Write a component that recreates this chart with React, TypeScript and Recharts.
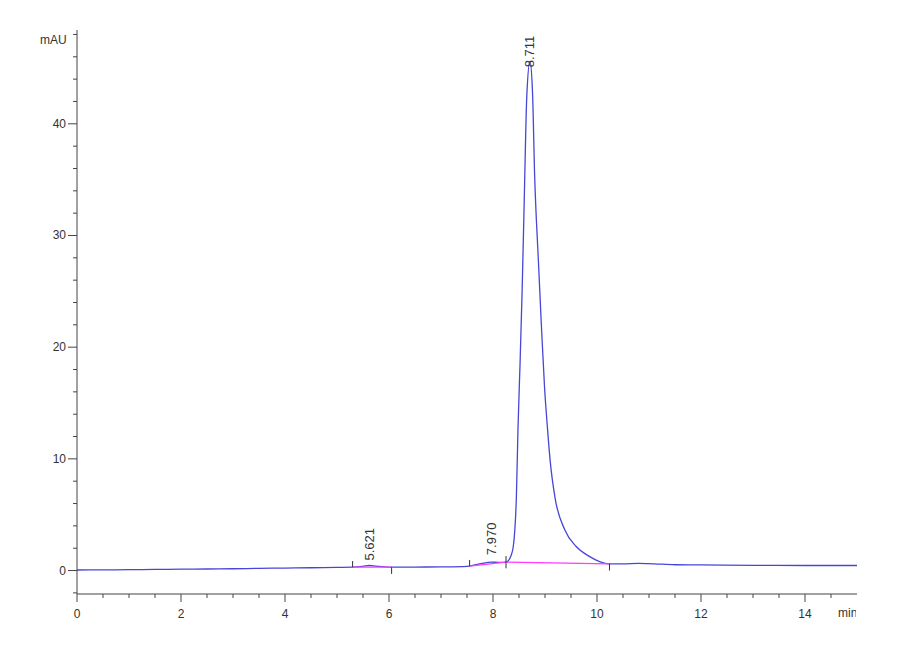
import React from "react"
import {
  Line,
  LineChart,
  ReferenceDot,
  ReferenceLine,
  XAxis,
  YAxis,
} from "recharts"

// chromatogram trace (min, mAU)
const timeMin = [
  0, 0.5, 1, 1.5, 2, 2.5, 3, 3.5, 4, 4.5, 5, 5.3, 5.5, 5.62, 5.75, 5.9, 6.05,
  6.5, 7, 7.5, 7.65, 7.8, 7.97, 8.1, 8.2, 8.25, 8.29, 8.34, 8.39, 8.42, 8.45,
  8.48, 8.52, 8.56, 8.6, 8.65, 8.711, 8.76, 8.8, 8.87, 8.93, 8.99, 9.05, 9.1,
  9.19, 9.38, 9.6, 9.86, 10.05, 10.24, 10.5, 10.8, 11.1, 11.5, 12, 13, 14, 15,
]
const absMAU = [
  0.05, 0.06, 0.08, 0.1, 0.12, 0.14, 0.16, 0.2, 0.22, 0.25, 0.28, 0.3, 0.38,
  0.45, 0.4, 0.33, 0.3, 0.31, 0.33, 0.38, 0.5, 0.65, 0.75, 0.74, 0.74, 0.76,
  0.85, 1.25, 2.15, 3.65, 6.6, 12.6, 18.5, 25, 33, 42.5, 45.6, 42.8, 35.5, 28,
  22, 16.5, 12.6, 9.8, 6.6, 3.65, 2.15, 1.25, 0.8, 0.6, 0.6, 0.65, 0.6, 0.52,
  0.5, 0.47, 0.45, 0.45,
]

// integration baselines (null = gap)
const baseTime = [5.3, 6.05, 6.8, 7.55, 8.25, 10.24]
const baseMAU: (number | null)[] = [0.3, 0.3, null, 0.4, 0.76, 0.6]

// integration event marks
const eventTime = [5.3, 6.05, 7.55, 8.25, 10.24]
const eventLow = [0.3, -0.3, 0.4, 0.2, 0.0]
const eventHigh = [0.85, 0.3, 0.95, 1.3, 0.6]

// peak apex labels
const peakTime = [5.621, 7.97, 8.711]
const peakMAU = [0.45, 0.75, 45.6]
const peakLabel = ["5.621", "7.970", "8.711"]

const xTicks = [
  0, 0.5, 1, 1.5, 2, 2.5, 3, 3.5, 4, 4.5, 5, 5.5, 6, 6.5, 7, 7.5, 8, 8.5, 9,
  9.5, 10, 10.5, 11, 11.5, 12, 12.5, 13, 13.5, 14, 14.5,
]
const xLabelled = [0, 2, 4, 6, 8, 10, 12, 14]
const yTicks = [
  -2, 0, 2, 4, 6, 8, 10, 12, 14, 16, 18, 20, 22, 24, 26, 28, 30, 32, 34, 36, 38,
  40, 42, 44, 46, 48,
]
const yLabelled = [0, 10, 20, 30, 40]

const FONT = "'Liberation Sans', Arial, sans-serif"
const AXIS = "#444"
const TRACE = "#4646d8"
const BASE = "#ff3cff"
// vertical gap between apex and label start (px); main peak label overlaps tip
const labelGap = [5, 7, -6]

const traceData = timeMin.map((t, i) => ({ t, v: absMAU[i] }))
const baseData = baseTime.map((t, i) => ({ t, b: baseMAU[i] }))

const XTick = (props: any) => {
  const { x, y, payload } = props
  const major = xLabelled.includes(payload.value)
  return (
    <g>
      <line x1={x} x2={x} y1={y} y2={y + (major ? 8 : 4)} stroke={AXIS} />
      {major && (
        <text
          x={x}
          y={y + 24}
          textAnchor="middle"
          fontSize={12}
          fontFamily={FONT}
          fill="#333"
        >
          {payload.value}
        </text>
      )}
    </g>
  )
}

const YTick = (props: any) => {
  const { x, y, payload } = props
  const major = yLabelled.includes(payload.value)
  return (
    <g>
      <line x1={x} x2={x - (major ? 9 : 4)} y1={y} y2={y} stroke={AXIS} />
      {major && (
        <text
          x={x - 11}
          y={y + 4}
          textAnchor="end"
          fontSize={12}
          fontFamily={FONT}
          fill="#333"
        >
          {payload.value}
        </text>
      )}
    </g>
  )
}

const PeakLabel = (text: string, gap: number) => (props: any) => {
  const { viewBox } = props
  const cx = viewBox.x + (viewBox.width || 0) / 2
  const cy = viewBox.y + (viewBox.height || 0) / 2
  return (
    <text
      transform={`translate(${cx + 4.5},${cy - gap}) rotate(-90)`}
      fontSize={13}
      fontFamily={FONT}
      fill="#333"
    >
      {text}
    </text>
  )
}

export default function App() {
  return (
    <div style={{ position: "absolute", left: 0, top: 0, background: "#fff" }}>
      <LineChart
        width={900}
        height={660}
        data={traceData}
        margin={{ top: 30, right: 43, bottom: 0, left: 0 }}
      >
        <defs>
          <clipPath id="minClip">
            <rect x={0} y={0} width={856} height={660} />
          </clipPath>
        </defs>
        <XAxis
          dataKey="t"
          type="number"
          domain={[0, 15]}
          ticks={xTicks}
          interval={0}
          height={66}
          tickSize={0}
          tickMargin={0}
          tickLine={false}
          tick={<XTick />}
          axisLine={{ stroke: AXIS }}
          allowDataOverflow
          label={{
            content: () => (
              <text
                x={838}
                y={617}
                fontSize={12}
                fontFamily={FONT}
                fill="#333"
                clipPath="url(#minClip)"
              >
                min
              </text>
            ),
          }}
        />
        <YAxis
          type="number"
          domain={[-2.1, 48.4]}
          ticks={yTicks}
          interval={0}
          width={77}
          tickSize={0}
          tickMargin={0}
          tickLine={false}
          tick={<YTick />}
          axisLine={{ stroke: AXIS }}
          allowDataOverflow
          label={{
            content: () => (
              <text x={40} y={44} fontSize={12} fontFamily={FONT} fill="#333">
                mAU
              </text>
            ),
          }}
        />
        <Line
          dataKey="v"
          type="monotone"
          stroke={TRACE}
          strokeWidth={1.3}
          dot={false}
          isAnimationActive={false}
        />
        <Line
          data={baseData}
          dataKey="b"
          type="linear"
          stroke={BASE}
          strokeWidth={1.3}
          dot={false}
          connectNulls={false}
          isAnimationActive={false}
        />
        {eventTime.map((t, i) => (
          <ReferenceLine
            key={`ev${i}`}
            segment={[
              { x: t, y: eventLow[i] },
              { x: t, y: eventHigh[i] },
            ]}
            stroke="#333"
            strokeWidth={1}
          />
        ))}
        {peakTime.map((t, i) => (
          <ReferenceDot
            key={`pk${i}`}
            x={t}
            y={peakMAU[i]}
            r={0}
            stroke="none"
            fill="none"
            label={{ content: PeakLabel(peakLabel[i], labelGap[i]) }}
          />
        ))}
      </LineChart>
    </div>
  )
}
